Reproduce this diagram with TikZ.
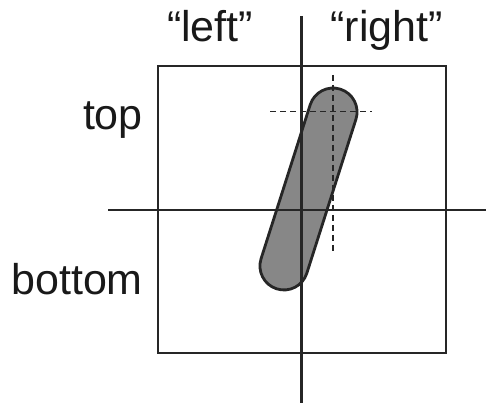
\documentclass[tikz,border=0pt]{standalone}
\usepackage{fontspec}
\setmainfont{Liberation Sans}
\usetikzlibrary{shapes.misc}
\begin{document}
\begin{tikzpicture}[x=1pt,y=1pt,
  lbl/.style={font=\fontsize{43}{50}\selectfont, inner sep=0pt, text=black!90},
  axis/.style={line width=2.8pt, draw=black!85},
  frame/.style={line width=2.2pt, draw=black!85},
  guide/.style={line width=1.4pt, draw=black!85, dash pattern=on 6pt off 4pt},
  capsule/.style={rounded rectangle, draw=black!85, line width=2.8pt, fill=black!47,
     minimum width=209.6pt, minimum height=48pt, inner sep=0pt}]
\useasboundingbox (0,0) rectangle (486,403);
\draw[frame] (158,50) rectangle (446,337);
\node[capsule, rotate=72.3] (cap) at (308.5,214) {};
\coordinate (vt) at (301.5,387);
\coordinate (vb) at (301.5,0);
\coordinate (hl) at (108,193);
\coordinate (hr) at (486,193);
\draw[axis] (vt) -- (vb);
\draw[axis] (hl) -- (hr);
\coordinate (dt) at (333,328);
\coordinate (db) at (333,150);
\coordinate (dl) at (270,291.5);
\coordinate (dr) at (372,291.5);
\draw[guide] (dt) -- (db);
\draw[guide] (dl) -- (dr);
\node[lbl, anchor=base] (left) at (210,361.5) {“left”};
\node[lbl, anchor=base] (right) at (386.5,361.5) {“right”};
\node[lbl, anchor=base east] (top) at (143,273) {top};
\node[lbl, anchor=base east] (bottom) at (143,108) {bottom};
\end{tikzpicture}
\end{document}
